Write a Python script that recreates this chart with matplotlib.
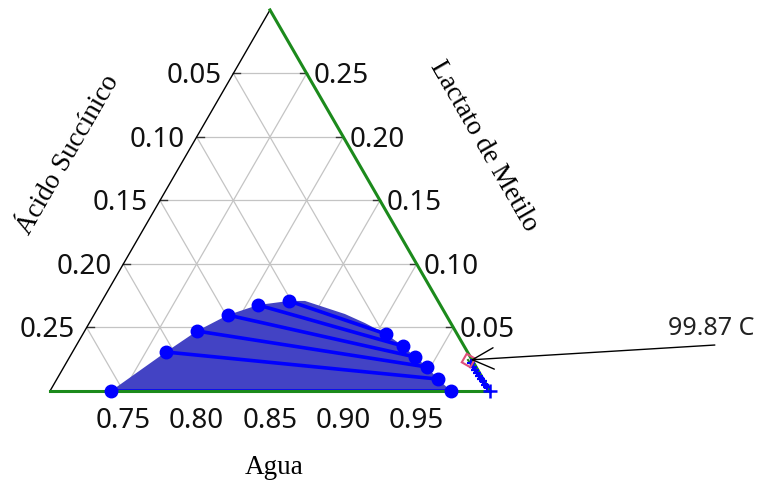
import numpy as np
import matplotlib.pyplot as plt

# Compositions (mass fraction): water and methyl lactate,
# succinic acid is the remainder.
w_left = [0.7416, 0.7637, 0.7766, 0.7914, 0.8080, 0.8275]
l_left = [0.0, 0.0307, 0.0472, 0.0598, 0.0677, 0.0709]
w_right = [0.9734, 0.9598, 0.9476, 0.9355, 0.9230, 0.9066]
l_right = [0.0, 0.0094, 0.0189, 0.0268, 0.0354, 0.0449]
# envelope between the last tie-line ends
w_top = [0.8384, 0.8708, 0.8880]
l_top = [0.0709, 0.0606, 0.0535]

# small crosses near the water corner
w_curve = [0.9760, 0.9790, 0.9815, 0.9840, 0.9865, 0.9891, 0.9915, 0.9940, 0.9964]
l_curve = [0.0220, 0.0190, 0.0165, 0.0145, 0.0120, 0.0094, 0.0075, 0.0050, 0.0031]
w_azeo, l_azeo = 0.9728, 0.0244
azeo_label = "99.87 C"

side_ticks = [0.05, 0.10, 0.15, 0.20, 0.25]
water_ticks = [0.75, 0.80, 0.85, 0.90, 0.95]

W0 = 0.7
SPAN = 0.3


def xy(w, l):
    a = (np.asarray(w, float) - W0) / SPAN
    b = np.asarray(l, float) / SPAN
    return a + b / 2, b * np.sqrt(3) / 2


fig = plt.figure(figsize=(7.63, 4.84), dpi=100)
ax = fig.add_axes([0, 0, 1, 1])
ax.set_xlim(-50 / 440, 713 / 440)
ax.set_ylim(-93 / 440, 391 / 440)
ax.axis("off")

grid_kw = dict(color="#c4c4c4", lw=0.9, zorder=1)
for v in side_ticks:
    ax.plot(*xy([W0, 1 - v], [v, v]), **grid_kw)
    ax.plot(*xy([W0 + v, W0 + v], [0, SPAN - v]), **grid_kw)
    ax.plot(*xy([W0, 1 - v], [SPAN - v, 0]), **grid_kw)
    # short dark ticks on both side edges
    x0, y0 = xy(W0, v)
    ax.plot([x0, x0 + 0.016], [y0, y0], color="#333333", lw=1, zorder=2)
    x1, y1 = xy(1 - v, v)
    ax.plot([x1 - 0.016, x1], [y1, y1], color="#333333", lw=1, zorder=2)

# two-phase region
env_w = w_left + w_top + w_right[::-1]
env_l = l_left + l_top + l_right[::-1]
ax.fill(*xy(env_w, env_l), color="#4343c4", lw=0, zorder=3)

xl, yl = xy(w_left, l_left)
xr, yr = xy(w_right, l_right)
for i in range(len(w_left)):
    ax.plot([xl[i], xr[i]], [yl[i], yr[i]], color="#0000ff", lw=2.6, zorder=4)

# edges
ax.plot(*xy([W0, W0], [0, SPAN]), color="black", lw=1, zorder=5)
ax.plot(*xy([W0, 1], [0, 0]), color="#1c8a1c", lw=2.2, zorder=5)
ax.plot(*xy([W0, 1], [SPAN, 0]), color="#1c8a1c", lw=2.2, zorder=5)
ax.plot(*xy([w_azeo, 1], [l_azeo, 0]), color="#1c8a1c", lw=1.5, zorder=5)

ax.plot(xl, yl, "o", color="#0000ff", ms=9, zorder=6)
ax.plot(xr, yr, "o", color="#0000ff", ms=9, zorder=6)

ax.plot(*xy(w_curve, l_curve), "+", color="#0000ff", ms=6, mew=1.6, zorder=6)
ax.plot(*xy(1, 0), "+", color="#0000ff", ms=10, mew=1.8, zorder=6)
ax.plot(*xy(w_azeo, l_azeo), marker=(4, 0, 15), ms=10, mfc="none",
        mec="#e0507a", mew=1.5, zorder=7)

# annotation
ax.annotate("", xy=xy(w_azeo, l_azeo), xytext=(1.511, 0.1045),
            arrowprops=dict(arrowstyle="->,head_length=0.7,head_width=0.35",
                            color="black", lw=1.0,
                            mutation_scale=22, shrinkA=0, shrinkB=2),
            zorder=8)
ax.text(1.404, 0.113, azeo_label, ha="left", va="bottom",
        fontsize=18, family="Noto Sans", color="#222222")

tick_kw = dict(fontsize=20, family="Noto Sans", weight=500, color="#111111",
               va="baseline")
for v in side_ticks:
    x0, y0 = xy(W0, SPAN - v)
    ax.text(x0 - 0.027, y0 - 0.0227, f"{v:.2f}", ha="right", **tick_kw)
    x1, y1 = xy(1 - v, v)
    ax.text(x1 + 0.015, y1 - 0.0227, f"{v:.2f}", ha="left", **tick_kw)
for v in water_ticks:
    x0, y0 = xy(v, 0)
    ax.text(x0, y0 - 0.084, f"{v:.2f}", ha="center", **tick_kw)

title_kw = dict(fontsize=19.5, family="Liberation Serif", color="black",
                ha="center", va="center")
ax.text(0.509, -0.173, "Agua", **title_kw)
ax.text(0.041, 0.536, "Ácido Succínico", rotation=60, **title_kw)
ax.text(0.986, 0.557, "Lactato de Metilo", rotation=-60, **title_kw)

fig.savefig("out.png", dpi=100)
